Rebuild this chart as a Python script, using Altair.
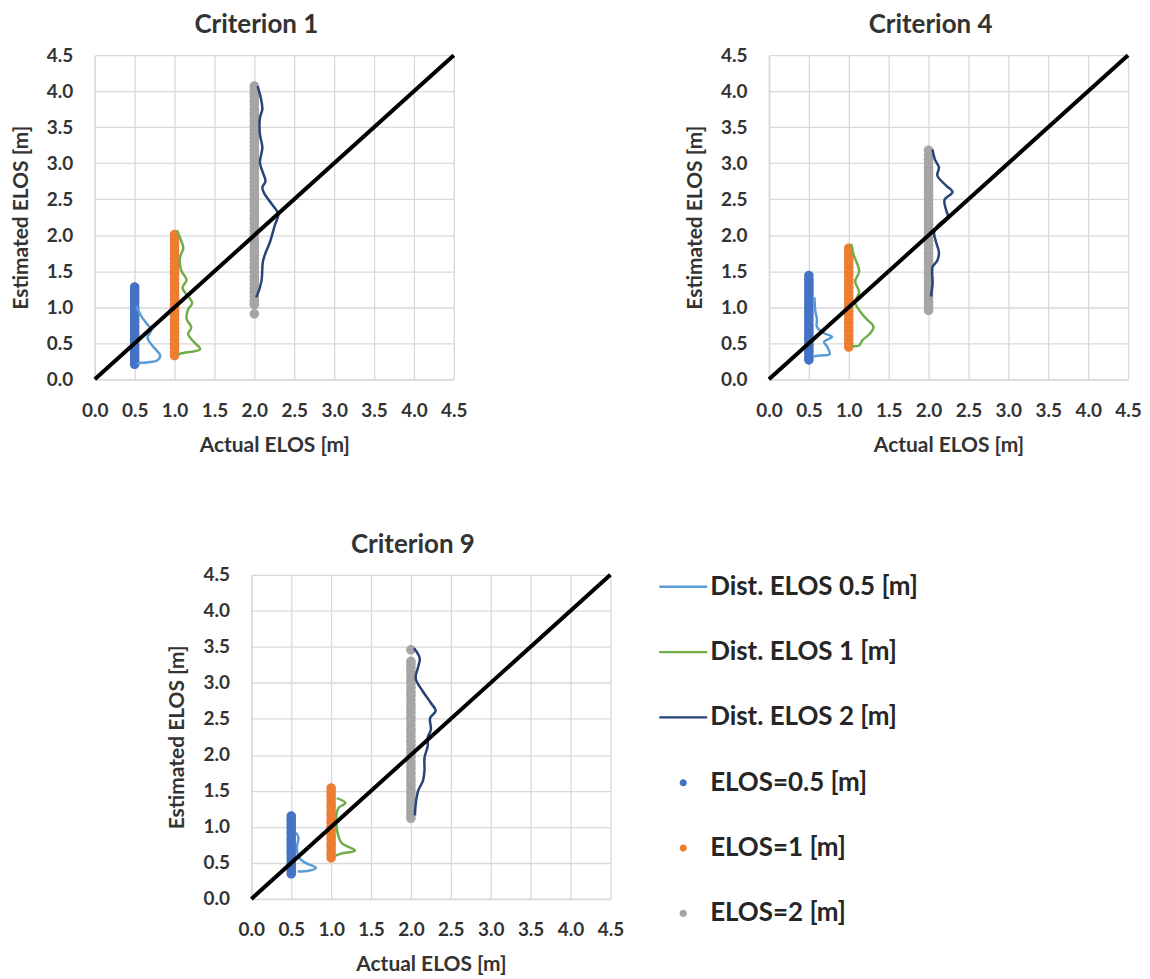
import altair as alt
import pandas as pd

FONT = "Lato"
TEXT = "#333333"

SERIES = ["Dist. ELOS 0.5 [m]", "Dist. ELOS 1 [m]", "Dist. ELOS 2 [m]",
          "ELOS=0.5 [m]", "ELOS=1 [m]", "ELOS=2 [m]"]
COLORS = ["#5B9BD5", "#70AD47", "#264478", "#4472C4", "#ED7D31", "#A5A5A5"]
LINE_PATH = "M-1,-0.05H1V0.05H-1Z"
DOT_PATH = "M-0.15,0A0.15,0.15 0 1,0 0.15,0A0.15,0.15 0 1,0 -0.15,0Z"
SHAPES = [LINE_PATH] * 3 + [DOT_PATH] * 3

ACTUAL = [0.5, 1.0, 2.0]
AXIS_TICKS = [0.0, 0.5, 1.0, 1.5, 2.0, 2.5, 3.0, 3.5, 4.0, 4.5]
DIAG = [0.0, 4.5]
TITLES = ["Criterion 1", "Criterion 4", "Criterion 9"]

# ---- Criterion 1 ----
C1_EST_05 = [0.21, 0.25, 0.29, 0.34, 0.38, 0.43, 0.47, 0.52, 0.56, 0.61, 0.65, 0.70, 0.74,
             0.79, 0.83, 0.88, 0.92, 0.97, 1.01, 1.06, 1.10, 1.15, 1.19, 1.24, 1.28]
C1_EST_1 = [0.33, 0.38, 0.44, 0.49, 0.55, 0.61, 0.66, 0.72, 0.77, 0.83, 0.89, 0.94, 1.00,
            1.05, 1.11, 1.17, 1.22, 1.28, 1.33, 1.39, 1.45, 1.50, 1.56, 1.61, 1.67, 1.73,
            1.78, 1.84, 1.89, 1.95, 2.01]
C1_EST_2 = [0.91, 1.04, 1.09, 1.15, 1.21, 1.26, 1.32, 1.38, 1.43, 1.49, 1.55, 1.60, 1.66,
            1.72, 1.77, 1.83, 1.89, 1.94, 2.00, 2.06, 2.11, 2.17, 2.23, 2.28, 2.34, 2.40,
            2.45, 2.51, 2.57, 2.62, 2.68, 2.74, 2.79, 2.85, 2.90, 2.95, 3.01, 3.07, 3.12,
            3.18, 3.24, 3.29, 3.35, 3.41, 3.46, 3.52, 3.58, 3.64, 3.69, 3.75, 3.81, 3.86,
            3.92, 3.97, 4.02, 4.07]
C1_D05_X = [0.52, 0.58, 0.66, 0.71, 0.66, 0.72, 0.82, 0.78, 0.60, 0.53]
C1_D05_Y = [1.02, 0.88, 0.76, 0.69, 0.58, 0.47, 0.33, 0.26, 0.23, 0.22]
C1_D1_X = [1.03, 1.08, 1.11, 1.07, 1.08, 1.15, 1.10, 1.22, 1.17, 1.15, 1.21, 1.17, 1.24, 1.32, 1.08, 1.04]
C1_D1_Y = [2.07, 1.93, 1.82, 1.70, 1.52, 1.38, 1.27, 1.06, 0.97, 0.84, 0.72, 0.63, 0.52, 0.42, 0.36, 0.34]
C1_D2_X = [2.04, 2.08, 2.10, 2.07, 2.07, 2.10, 2.07, 2.10, 2.14, 2.10, 2.13, 2.22, 2.30, 2.26,
           2.20, 2.11, 2.09, 2.04, 2.02]
C1_D2_Y = [4.07, 3.91, 3.75, 3.63, 3.40, 3.22, 3.01, 2.89, 2.75, 2.66, 2.57, 2.43, 2.29, 2.15,
           1.92, 1.65, 1.37, 1.18, 1.14]

# ---- Criterion 4 ----
C4_EST_05 = [0.27, 0.31, 0.36, 0.40, 0.45, 0.49, 0.54, 0.58, 0.63, 0.67, 0.72, 0.76, 0.81,
             0.85, 0.90, 0.94, 0.99, 1.03, 1.08, 1.12, 1.17, 1.21, 1.26, 1.30, 1.35, 1.39, 1.44]
C4_EST_1 = [0.45, 0.50, 0.56, 0.61, 0.67, 0.72, 0.78, 0.83, 0.89, 0.94, 1.00, 1.05, 1.11,
            1.16, 1.22, 1.27, 1.33, 1.38, 1.44, 1.49, 1.55, 1.60, 1.66, 1.71, 1.77, 1.82]
C4_EST_2 = [0.96, 1.01, 1.07, 1.13, 1.18, 1.24, 1.30, 1.35, 1.41, 1.47, 1.52, 1.58, 1.64,
            1.69, 1.75, 1.81, 1.86, 1.92, 1.98, 2.03, 2.09, 2.15, 2.20, 2.26, 2.32, 2.37,
            2.43, 2.49, 2.54, 2.60, 2.66, 2.71, 2.77, 2.83, 2.88, 2.94, 3.00, 3.05, 3.11, 3.18]
C4_D05_X = [0.57, 0.58, 0.60, 0.60, 0.69, 0.79, 0.69, 0.73, 0.76, 0.65, 0.56]
C4_D05_Y = [1.14, 0.95, 0.84, 0.73, 0.64, 0.59, 0.52, 0.45, 0.35, 0.33, 0.32]
C4_D1_X = [1.03, 1.06, 1.13, 1.08, 1.13, 1.08, 1.15, 1.22, 1.31, 1.27, 1.17, 1.13, 1.04]
C4_D1_Y = [1.88, 1.73, 1.50, 1.36, 1.21, 1.07, 0.93, 0.84, 0.73, 0.64, 0.54, 0.47, 0.46]
C4_D2_X = [2.05, 2.08, 2.13, 2.11, 2.22, 2.30, 2.20, 2.22, 2.24, 2.13, 2.07, 2.09, 2.13, 2.11,
           2.05, 2.05, 2.03]
C4_D2_Y = [3.19, 3.05, 2.94, 2.83, 2.69, 2.60, 2.49, 2.35, 2.26, 2.15, 2.04, 1.92, 1.76, 1.65,
           1.56, 1.33, 1.15]

# ---- Criterion 9 ----
C9_EST_05 = [0.35, 0.39, 0.44, 0.48, 0.53, 0.57, 0.62, 0.66, 0.71, 0.75, 0.80, 0.84, 0.89,
             0.93, 0.98, 1.02, 1.07, 1.11, 1.15]
C9_EST_1 = [0.57, 0.62, 0.67, 0.73, 0.78, 0.84, 0.89, 0.95, 1.00, 1.06, 1.11, 1.17, 1.22,
            1.28, 1.33, 1.39, 1.44, 1.49, 1.54]
C9_EST_2 = [1.12, 1.17, 1.23, 1.29, 1.34, 1.40, 1.46, 1.51, 1.57, 1.63, 1.68, 1.74, 1.80,
            1.85, 1.91, 1.97, 2.02, 2.08, 2.14, 2.19, 2.25, 2.31, 2.36, 2.42, 2.48, 2.53,
            2.59, 2.65, 2.70, 2.76, 2.82, 2.87, 2.93, 2.99, 3.04, 3.10, 3.16, 3.21, 3.26,
            3.30, 3.46]
C9_D05_X = [0.56, 0.59, 0.57, 0.60, 0.68, 0.81, 0.72, 0.58]
C9_D05_Y = [0.92, 0.85, 0.71, 0.57, 0.50, 0.43, 0.39, 0.38]
C9_D1_X = [1.07, 1.18, 1.09, 1.07, 1.13, 1.30, 1.13, 1.06]
C9_D1_Y = [1.40, 1.33, 1.26, 0.99, 0.78, 0.67, 0.63, 0.60]
C9_D2_X = [2.04, 2.11, 2.09, 2.06, 2.15, 2.25, 2.31, 2.24, 2.25, 2.21, 2.21, 2.17, 2.17, 2.15,
           2.09, 2.06, 2.05]
C9_D2_Y = [3.48, 3.34, 3.22, 3.06, 2.88, 2.72, 2.61, 2.51, 2.35, 2.24, 2.12, 1.96, 1.78, 1.64,
           1.50, 1.32, 1.16]

PANELS = [
    (TITLES[0], [C1_EST_05, C1_EST_1, C1_EST_2],
     [(C1_D05_X, C1_D05_Y), (C1_D1_X, C1_D1_Y), (C1_D2_X, C1_D2_Y)]),
    (TITLES[1], [C4_EST_05, C4_EST_1, C4_EST_2],
     [(C4_D05_X, C4_D05_Y), (C4_D1_X, C4_D1_Y), (C4_D2_X, C4_D2_Y)]),
    (TITLES[2], [C9_EST_05, C9_EST_1, C9_EST_2],
     [(C9_D05_X, C9_D05_Y), (C9_D1_X, C9_D1_Y), (C9_D2_X, C9_D2_Y)]),
]

PW, PH = 360, 325

color_scale = alt.Scale(domain=SERIES, range=COLORS)
shape_scale = alt.Scale(domain=SERIES, range=SHAPES)
legend = alt.Legend(title=None, orient="none", legendX=566, legendY=509)


def xy():
    x = alt.X("x:Q", scale=alt.Scale(domain=[0, 4.5], nice=False, zero=False),
              axis=alt.Axis(values=AXIS_TICKS, format=".1f", title="Actual ELOS [m]"))
    y = alt.Y("y:Q", scale=alt.Scale(domain=[0, 4.5], nice=False, zero=False),
              axis=alt.Axis(values=AXIS_TICKS, format=".1f", title="Estimated ELOS [m]"))
    return x, y


def panel(title, ests, dists):
    prow = []
    for i, (a, lst) in enumerate(zip(ACTUAL, ests)):
        for v in lst:
            prow.append({"x": a, "y": v, "series": SERIES[3 + i]})
    lrow = []
    for i, (xs, ys) in enumerate(dists):
        for k, (xv, yv) in enumerate(zip(xs, ys)):
            lrow.append({"x": xv, "y": yv, "series": SERIES[i], "k": k})
    ddf = pd.DataFrame({"x": DIAG, "y": DIAG})
    x, y = xy()
    pts = alt.Chart(pd.DataFrame(prow)).mark_point(
        filled=True, size=4096, opacity=1, strokeWidth=0
    ).encode(
        x=x, y=y,
        color=alt.Color("series:N", scale=color_scale, legend=legend),
        shape=alt.Shape("series:N", scale=shape_scale, legend=legend),
    )
    lines = alt.Chart(pd.DataFrame(lrow)).mark_line(
        strokeWidth=2.5, interpolate="catmull-rom"
    ).encode(
        x=x, y=y,
        color=alt.Color("series:N", scale=color_scale, legend=None),
        order=alt.Order("k:Q"),
    )
    diag = alt.Chart(ddf).mark_line(color="black", strokeWidth=4).encode(x=x, y=y)
    return alt.layer(pts, lines, diag).properties(
        width=PW, height=PH,
        title=alt.TitleParams(title, fontSize=26, fontWeight="bold", font=FONT, color=TEXT,
                              anchor="middle", frame="group", dx=-18, offset=8),
    )


p1 = panel(*PANELS[0])
p2 = panel(*PANELS[1])
p3 = panel(*PANELS[2])

spacer = alt.Chart(pd.DataFrame({"v": [0]})).mark_point(opacity=0).encode(
    x=alt.value(0), y=alt.value(0)
).properties(width=72, height=10)

top = alt.hconcat(p1, p2, spacing=217)
bottom = alt.hconcat(spacer, p3, spacing=0)

chart = alt.vconcat(top, bottom, spacing=77).properties(
    padding={"left": 2, "top": 3, "right": 0, "bottom": 0}
).configure_view(stroke=None).configure_axis(
    grid=True, gridColor="#D9D9D9", gridWidth=1.3,
    domainColor="#D9D9D9", domainWidth=1.5, ticks=False,
    labelFont=FONT, labelFontSize=19, labelFontWeight="bold", labelColor=TEXT,
    titleFont=FONT, titleFontSize=21, titleFontWeight="bold", titleColor=TEXT,
    labelPadding=22, labelFlush=False, labelOverlap=False,
).configure_axisY(titlePadding=15).configure_axisX(titlePadding=14).configure_legend(
    labelFont=FONT, labelFontSize=26, labelFontWeight="bold", labelColor="#262626",
    symbolSize=2304, symbolStrokeWidth=0, rowPadding=28.5, labelOffset=3, padding=0,
    labelLimit=400,
)

chart.save("out.html", embed_options={"renderer": "svg", "actions": False})
